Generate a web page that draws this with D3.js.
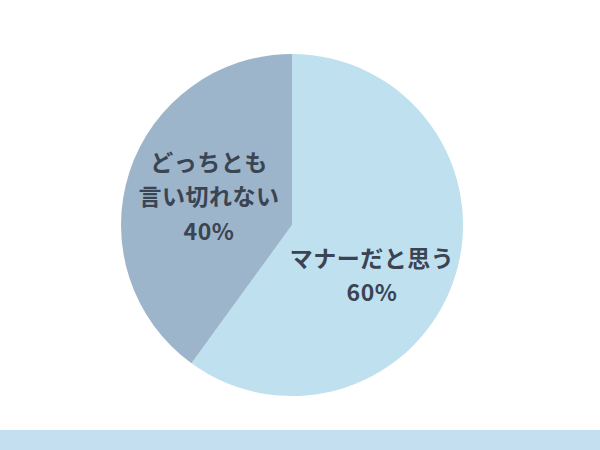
<!DOCTYPE html>
<html><head><meta charset="utf-8">
<script src="https://cdn.jsdelivr.net/npm/d3@7"></script>
<style>html,body{margin:0;padding:0;background:#fff;}svg{display:block;}</style>
</head><body>
<script>
const categories = ["マナーだと思う", "どっちとも言い切れない"];
const values = [60, 40];
const labelLines = [["マナーだと思う", "60%"], ["どっちとも", "言い切れない", "40%"]];
const colors = ["#BFE0EE", "#9DB5CA"];

const W = 600, H = 450;
const svg = d3.select("body").append("svg").attr("width", W).attr("height", H);
svg.append("rect").attr("x", 0).attr("y", 430).attr("width", W).attr("height", 20).attr("fill", "#C4DFEF");

const cx = 292, cy = 225, R = 171;
const g = svg.append("g").attr("transform", `translate(${cx},${cy})`);
const pie = d3.pie().sort(null).value(d => d)(values);
const arc = d3.arc().innerRadius(0).outerRadius(R);
g.selectAll("path").data(pie).enter().append("path")
  .attr("d", arc).attr("fill", (d, i) => colors[i]);

// label anchor positions relative to center
const anchors = [{x: 80, y: 51, lh: 33.5}, {x: -83, y: -28, lh: 34.5}];
pie.forEach((d, i) => {
  const lines = labelLines[i];
  const a = anchors[i];
  const n = lines.length;
  const text = g.append("text")
    .attr("text-anchor", "middle")
    .attr("font-family", "'Noto Sans CJK JP', 'Noto Sans', sans-serif")
    .attr("font-weight", "bold")
    .attr("font-size", 23)
    .attr("letter-spacing", 0.5)
    .attr("fill", "#3B4452");
  lines.forEach((t, j) => {
    text.append("tspan")
      .attr("x", a.x)
      .attr("y", a.y + (j - (n - 1) / 2) * a.lh + 8)
      .text(t);
  });
});
</script>
</body></html>
